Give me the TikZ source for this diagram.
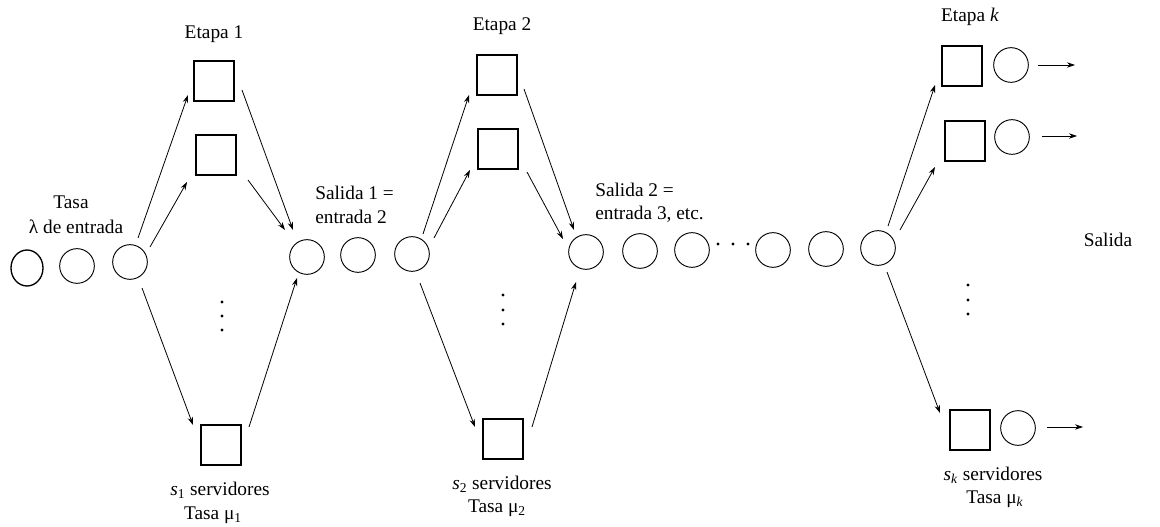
\documentclass[tikz,border=0pt]{standalone}
\usepackage{fontspec}
\setmainfont{Liberation Serif}
\usetikzlibrary{arrows.meta,calc,shapes.geometric}
\begin{document}
\begin{tikzpicture}[x=0.75pt,y=-0.75pt,
  srv/.style={draw,line width=0.8pt,minimum size=30pt,inner sep=0pt},
  cli/.style={draw,circle,line width=0.7pt,minimum size=26pt,inner sep=0pt},
  arr/.style={line width=0.6pt,-{Stealth[length=6pt,width=4pt]}},
  lbl/.style={font=\fontsize{14.5}{17}\selectfont,inner sep=0pt},
  dot/.style={circle,fill,inner sep=0pt,minimum size=2.6pt}]
\useasboundingbox (0,0) rectangle (1160,527);

% queue row
\node[draw,ellipse,line width=1pt,minimum width=24pt,minimum height=27pt,inner sep=0pt] (c1) at (27,268) {};
\node[cli] (c2) at (77,266) {};
\node[cli] (c3) at (130,262) {};
\node[cli] (c4) at (307,257) {};
\node[cli] (c5) at (358,255) {};
\node[cli] (c6) at (412,254) {};
\node[cli] (c7) at (586,252) {};
\node[cli] (c8) at (640,251) {};
\node[cli] (c9) at (692,250) {};
\node[dot] (h1) at (718,244) {};
\node[dot] (h2) at (733,244) {};
\node[dot] (h3) at (748,244) {};
\node[cli] (c10) at (773,250) {};
\node[cli] (c11) at (826,249) {};
\node[cli] (c12) at (878,248) {};

% stage 1
\node[srv] (b11) at (214,81) {};
\node[srv] (b12) at (216,155) {};
\node[srv] (b13) at (221,445) {};
\node[dot] (v11) at (222,302) {};
\node[dot] (v12) at (222,316) {};
\node[dot] (v13) at (222,330) {};

% stage 2
\node[srv] (b21) at (497,75) {};
\node[srv] (b22) at (498,149) {};
\node[srv] (b23) at (503,439) {};
\node[dot] (v21) at (503,295) {};
\node[dot] (v22) at (503,310) {};
\node[dot] (v23) at (503,324) {};

% stage k
\node[srv] (bk1) at (962,66) {};
\node[srv] (bk2) at (965,141) {};
\node[srv] (bk3) at (970,430) {};
\node[cli] (ok1) at (1011,65) {};
\node[cli] (ok2) at (1012,137) {};
\node[cli] (ok3) at (1018,428) {};
\node[dot] (vk1) at (968,285) {};
\node[dot] (vk2) at (968,300) {};
\node[dot] (vk3) at (968,314) {};
\coordinate (e1) at (1075,65);
\coordinate (e2) at (1077,136);
\coordinate (e3) at (1083,427);

% labels
\node[lbl] (t1) at (214,34) {Etapa 1};
\node[lbl] (t2) at (502,26) {Etapa 2};
\node[lbl] (tk) at (970,17) {Etapa \textit{k}};
\node[lbl] (ta) at (71,202) {Tasa};
\node[lbl] (tb) at (76,227) {λ de entrada};
\node[lbl,anchor=west] (sa1) at (315,193) {Salida 1 =};
\node[lbl,anchor=west] (sb1) at (315,217) {entrada 2};
\node[lbl,anchor=west] (sa2) at (595,190) {Salida 2 =};
\node[lbl,anchor=west] (sb2) at (595,214) {entrada 3, etc.};
\node[lbl] (sal) at (1108,240) {Salida};
\node[lbl] (s1) at (220,490) {\textit{s}\textsubscript{1} servidores};
\node[lbl] (m1) at (213,515) {Tasa μ\textsubscript{1}};
\node[lbl] (s2) at (502,484) {\textit{s}\textsubscript{2} servidores};
\node[lbl] (m2) at (497,508) {Tasa μ\textsubscript{2}};
\node[lbl] (sk) at (993,475) {\textit{s}\textsubscript{\textit{k}} servidores};
\node[lbl] (mk) at (995,499) {Tasa μ\textsubscript{\textit{k}}};

% stage 1 arrows
\draw[arr] ($(c3)+(8,-24)$) -- ($(b11)+(-26,14)$);
\draw[arr] ($(c3)+(20,-15)$) -- ($(b12)+(-29,27)$);
\draw[arr] ($(b11)+(28,9)$) -- ($(c4)+(-14,-27)$);
\draw[arr] ($(b12)+(32,25)$) -- ($(c4)+(-22,-27)$);
\draw[arr] ($(c3)+(12,26)$) -- ($(b13)+(-28,-20)$);
\draw[arr] ($(b13)+(28,-18)$) -- ($(c4)+(-10,21)$);

% stage 2 arrows
\draw[arr] ($(c6)+(11,-20)$) -- ($(b21)+(-28,20)$);
\draw[arr] ($(c6)+(22,-16)$) -- ($(b22)+(-28,21)$);
\draw[arr] ($(b21)+(27,14)$) -- ($(c7)+(-12,-22)$);
\draw[arr] ($(b22)+(29,23)$) -- ($(c7)+(-23,-13)$);
\draw[arr] ($(c6)+(8,29)$) -- ($(b23)+(-28,-12)$);
\draw[arr] ($(b23)+(29,-12)$) -- ($(c7)+(-10,30)$);

% stage k arrows
\draw[arr] ($(c12)+(10,-22)$) -- ($(bk1)+(-27,19)$);
\draw[arr] ($(c12)+(22,-18)$) -- ($(bk2)+(-30,26)$);
\draw[arr] ($(c12)+(9,24)$) -- ($(bk3)+(-30,-17)$);
\draw[arr] ($(ok1)+(27,0)$) -- (e1);
\draw[arr] ($(ok2)+(30,-1)$) -- (e2);
\draw[arr] ($(ok3)+(29,-1)$) -- (e3);
\end{tikzpicture}
\end{document}
